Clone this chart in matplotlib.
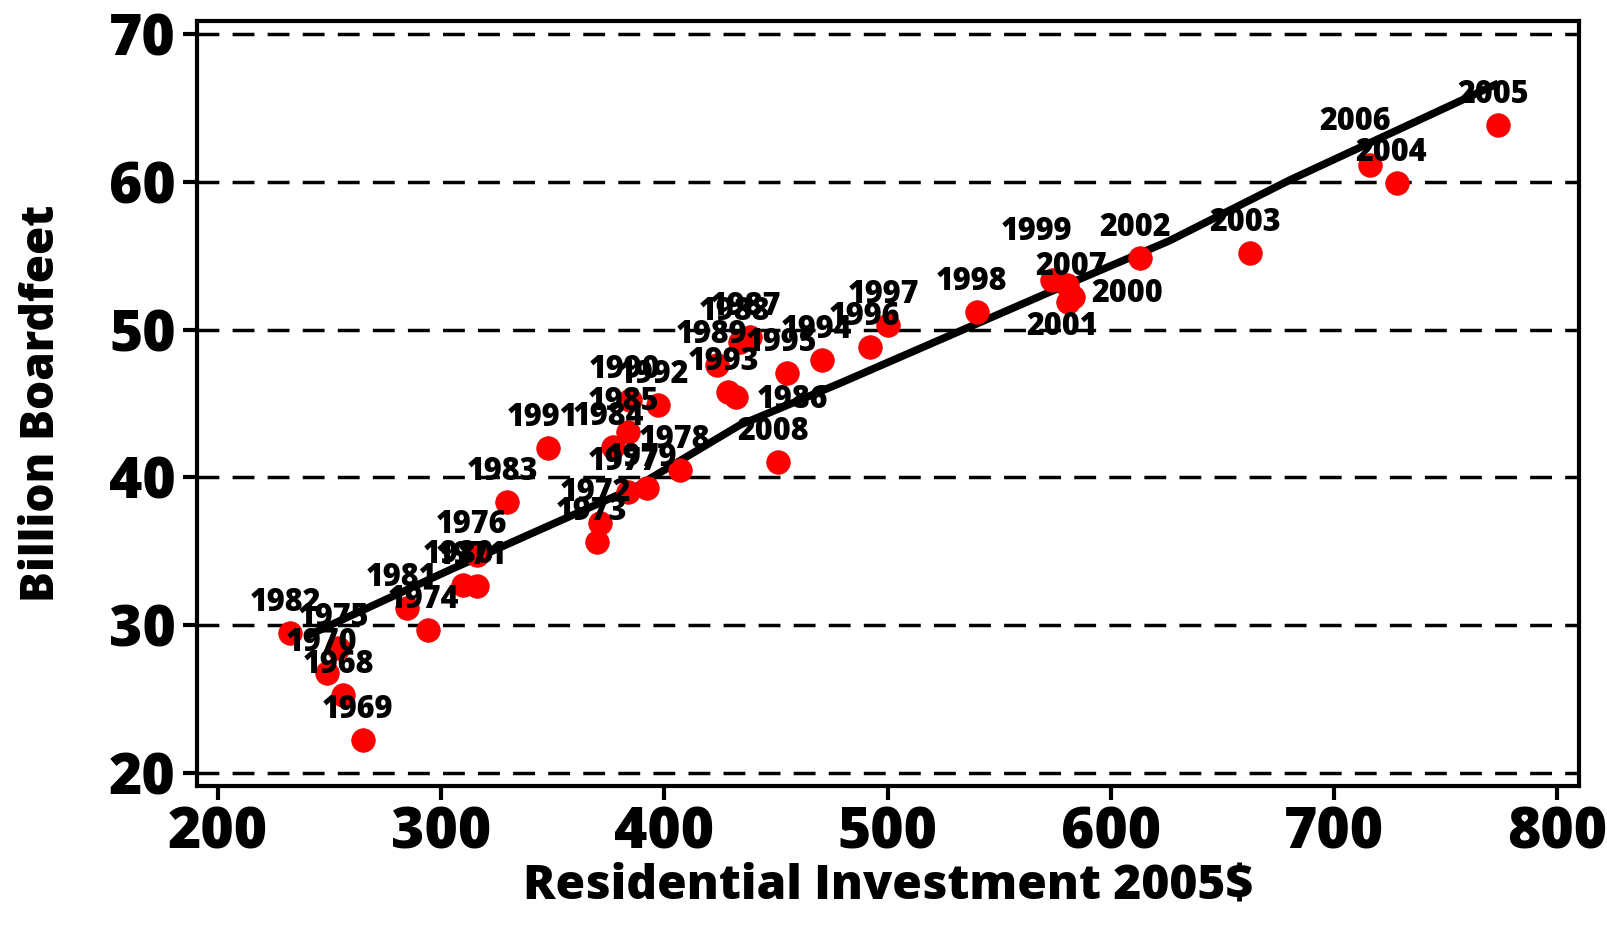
import matplotlib
matplotlib.use("Agg")
import matplotlib.pyplot as plt

plt.rcParams['font.family'] = ['Open Sans', 'DejaVu Sans']
plt.rcParams['font.weight'] = 800

# residential investment (2005$) vs lumber use (billion boardfeet), one point per year
years = [1968, 1969, 1970, 1971, 1972, 1973, 1974, 1975, 1976, 1977,
         1978, 1979, 1980, 1981, 1982, 1983, 1984, 1985, 1986, 1987,
         1988, 1989, 1990, 1991, 1992, 1993, 1994, 1995, 1996, 1997,
         1998, 1999, 2000, 2001, 2002, 2003, 2004, 2005, 2006, 2007, 2008]
invest = [256.2, 264.9, 248.8, 316.0, 371.2, 369.7, 294.3, 254.0, 316.0, 383.9,
          407.0, 392.1, 310.0, 284.6, 232.4, 329.7, 377.2, 383.9, 432.1, 438.4,
          433.9, 423.5, 384.6, 347.8, 397.3, 428.7, 470.5, 454.8, 492.1, 500.3,
          539.9, 573.5, 583.2, 580.8, 613.0, 662.3, 728.0, 773.5, 716.0, 580.2, 451.0]
boardfeet = [25.27, 22.22, 26.74, 32.65, 36.89, 35.65, 29.67, 28.43, 34.75, 39.03,
             40.50, 39.26, 32.71, 31.14, 29.44, 38.36, 42.08, 43.09, 45.44, 49.53,
             49.19, 47.61, 45.24, 41.97, 44.90, 45.78, 47.95, 47.05, 48.85, 50.32,
             51.22, 53.36, 52.23, 51.88, 54.83, 55.17, 59.91, 63.86, 61.15, 53.03, 41.06]

# fitted line
fit_x = [239.2, 304.0, 387.6, 434.0, 478.7, 581.7, 626.0, 680.3, 773.5]
fit_y = [29.2, 33.73, 39.37, 43.55, 46.37, 53.14, 56.0, 60.14, 66.68]

# label placement in pixels (dx, dy, ha), default is centred above the dot
default_off = (-5, 30, 'center')
label_off = {
    1999: (-15, 48, 'center'),
    2007: (5, 18, 'center'),
    2000: (18, 3, 'left'),
    2001: (-6, -25, 'center'),
    2006: (-15, 43, 'center'),
    1986: (21, -3, 'left'),
}

fig = plt.figure(figsize=(16.08, 9.33), dpi=100)
ax = fig.add_axes([0.1223, 0.1576, 0.8597, 0.8196])

ax.plot(fit_x, fit_y, color='black', lw=5.5, zorder=3, solid_capstyle='butt')
ax.plot(invest, boardfeet, 'o', color='#ff0000', ms=17, mec='#e80000', mew=0.5, zorder=4)

for yr, xv, yv in zip(years, invest, boardfeet):
    dx, dy, ha = label_off.get(yr, default_off)
    ax.annotate(str(yr), (xv, yv), xytext=(dx, dy), textcoords='offset pixels',
                ha=ha, va='center', fontsize=22, fontweight=800, color='black', zorder=5)

ax.set_xlim(190.6, 809.7)
ax.set_ylim(19.1, 70.88)
ax.set_xticks(range(200, 801, 100))
ax.set_yticks(range(20, 71, 10))

ax.yaxis.grid(True, color='black', lw=2.5, linestyle=(0, (6.3, 3.8)))
ax.set_axisbelow(True)

for s in ax.spines.values():
    s.set_linewidth(3)
    s.set_color('black')

ax.tick_params(axis='both', direction='out', length=10, width=3, labelsize=41)
ax.tick_params(axis='x', pad=4)
ax.tick_params(axis='y', pad=5)

ax.set_xlabel(r'Residential Investment 2005\$', fontsize=34.5, fontweight=800, labelpad=0)
ax.set_ylabel('Billion Boardfeet', fontsize=33, fontweight=800, labelpad=32)

fig.savefig('out.png', dpi=100)
